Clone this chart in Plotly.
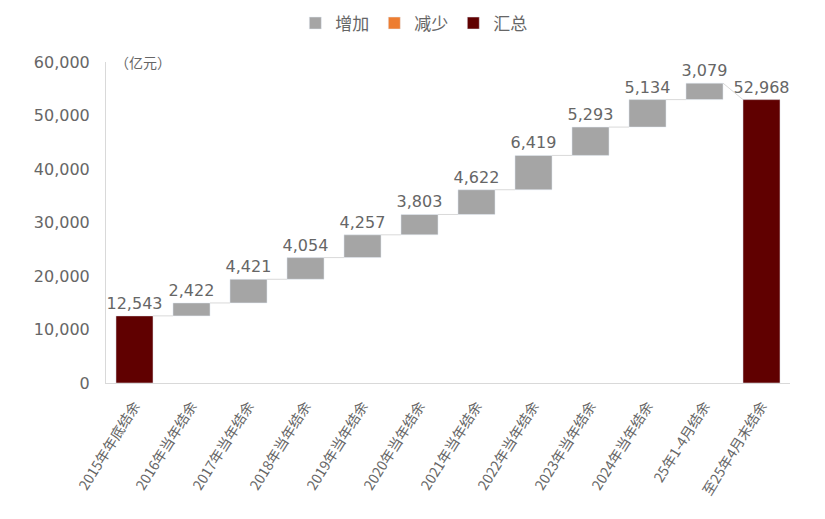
import plotly.graph_objects as go

# 数据（亿元）
categories = ["2015年年底结余", "2016年当年结余", "2017年当年结余", "2018年当年结余",
              "2019年当年结余", "2020年当年结余", "2021年当年结余", "2022年当年结余",
              "2023年当年结余", "2024年当年结余", "25年1-4月结余", "至25年4月末结余"]
start_total = 12543
increases = [2422, 4421, 4054, 4257, 3803, 4622, 6419, 5293, 5134, 3079]
end_total = 52968

n = len(categories)
xs = list(range(n))
bar_w = 0.65
font_cn = "Noto Sans CJK SC"
font_num = "DejaVu Sans"
grey_txt = "#666666"

# 累计水平
levels = [start_total]
for v in increases:
    levels.append(levels[-1] + v)
bases = levels[:-1]

fig = go.Figure()

fig.add_trace(go.Bar(
    x=xs[1:n - 1], y=increases, base=bases, width=bar_w,
    marker=dict(color="#A5A5A5"), name="增加",
    text=[f"{v:,}" for v in increases], textposition="outside",
    constraintext="none",
    textfont=dict(family=font_num, size=16, color=grey_txt), cliponaxis=False,
))
fig.add_trace(go.Bar(
    x=[None], y=[None], marker=dict(color="#ED7D31"), name="减少",
))
totals_x = [xs[0], xs[-1]]
totals_y = [start_total, end_total]
fig.add_trace(go.Bar(
    x=totals_x, y=totals_y, width=bar_w,
    marker=dict(color="#600000"), name="汇总",
    text=[f"{v:,}" for v in totals_y], textposition="outside",
    constraintext="none",
    textfont=dict(family=font_num, size=16, color=grey_txt), cliponaxis=False,
))

# 连接线（最后一段由25年1-4月末水平连到汇总柱顶）
cx, cy = [], []
for i in range(n - 1):
    y0 = levels[i]
    y1 = y0 if i < n - 2 else end_total
    cx += [xs[i] + bar_w / 2, xs[i + 1] - bar_w / 2, None]
    cy += [y0, y1, None]
fig.add_trace(go.Scatter(
    x=cx, y=cy, mode="lines", line=dict(color="#D9D9D9", width=1),
    showlegend=False, hoverinfo="skip",
))

# 页面body自带8px边距，图幅相应缩小
fig.update_layout(
    width=817, height=511,
    margin=dict(l=98, r=35, t=54, b=136, autoexpand=False),
    barmode="overlay",
    paper_bgcolor="white", plot_bgcolor="white",
    font=dict(family=font_cn, color=grey_txt),
    legend=dict(orientation="h", x=0.45, xanchor="center", y=1.12, yanchor="middle",
                font=dict(size=17, color=grey_txt), traceorder="normal",
                itemwidth=30),
    showlegend=True,
)
fig.update_xaxes(
    range=[-0.5, n - 0.5], tickvals=xs, ticktext=categories, tickangle=-58,
    tickfont=dict(size=14, color=grey_txt), showgrid=False,
    showline=True, linecolor="#D9D9D9", ticks="", automargin=False,
    ticklabelstandoff=8,
)
fig.update_yaxes(
    range=[0, 60000], dtick=10000, tickformat=",", showgrid=False,
    tickfont=dict(family=font_num, size=16, color=grey_txt),
    showline=True, linecolor="#D9D9D9",
    zeroline=False, ticks="", automargin=False, ticklabelstandoff=12,
)
fig.add_annotation(text="（亿元）", xref="paper", yref="paper", x=0.01, y=1.0,
                   xanchor="left", yanchor="middle", showarrow=False,
                   font=dict(size=14, color=grey_txt))

fig.write_html("out.html")
